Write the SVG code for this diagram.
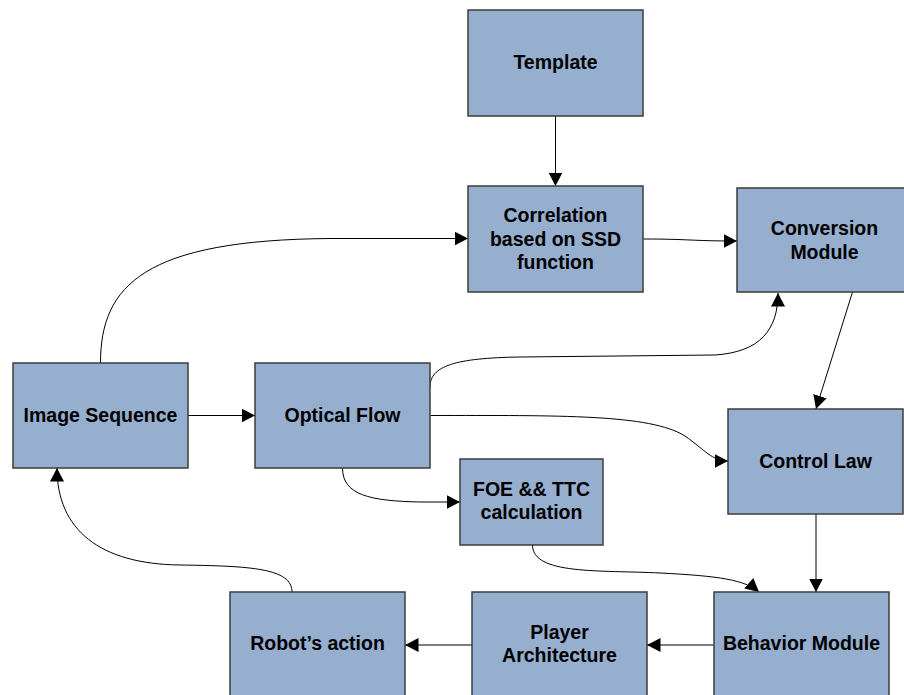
<svg xmlns="http://www.w3.org/2000/svg" width="904" height="695" viewBox="0 0 904 695">
  <style>
    .box { fill: #96AFCF; stroke: #3c3c3c; stroke-width: 1.5; }
    .lbl { font-family: "Liberation Sans", Arial, sans-serif; font-weight: bold; font-size: 19.5px; fill: #000; text-anchor: middle; }
    .edge { fill: none; stroke: #000; stroke-width: 1; marker-end: url(#arrow); }
  </style>
  <defs>
    <marker id="arrow" markerUnits="userSpaceOnUse" markerWidth="15" markerHeight="15" refX="13.5" refY="7" orient="auto">
      <path d="M0,0 L13.5,7 L0,14 z" fill="#000"/>
    </marker>
  </defs>
  <rect width="904" height="695" fill="#fff"/>

  <g id="connectors">
    <path class="edge" d="M555.5,116 L555.5,186"/>
    <path class="edge" d="M100.5,363 C100.5,285 145,240 330,238.5 L468,238.5"/>
    <path class="edge" d="M643,239 C690,239 690,241 737,241"/>
    <path class="edge" d="M430,387 C430,366 455,358 520,357 L715,355 C760,352 778,330 778,293"/>
    <path class="edge" d="M430,415.5 C560,415.5 650,414 685,436 C705,450 712,461 728,461"/>
    <path class="edge" d="M188,415.5 L255,415.5"/>
    <path class="edge" d="M342.5,468 C342.5,495 370,501 420,502 L460,502"/>
    <path class="edge" d="M532.5,545 C532.5,575 600,570 660,573 C720,576 745,580 759,592"/>
    <path class="edge" d="M852.5,292 L816,409"/>
    <path class="edge" d="M816,514 L816,592"/>
    <path class="edge" d="M714,645 L647,645"/>
    <path class="edge" d="M472,645 L405,645"/>
    <path class="edge" d="M292,592 C292,568 250,566 180,565 C100,564 57,530 57,468"/>
  </g>

  <g id="template">
    <rect class="box" x="468" y="10" width="175" height="106"/>
    <text class="lbl" x="555.5" y="69">Template</text>
  </g>
  <g id="correlation">
    <rect class="box" x="468" y="186" width="175" height="106"/>
    <text class="lbl" x="555.5" y="221.5">Correlation</text>
    <text class="lbl" x="555.5" y="245.5">based on SSD</text>
    <text class="lbl" x="555.5" y="269">function</text>
  </g>
  <g id="conversion">
    <rect class="box" x="737" y="188" width="175" height="104"/>
    <text class="lbl" x="824.5" y="235">Conversion</text>
    <text class="lbl" x="824.5" y="259">Module</text>
  </g>
  <g id="image-sequence">
    <rect class="box" x="13" y="363" width="175" height="105"/>
    <text class="lbl" x="100.5" y="422">Image Sequence</text>
  </g>
  <g id="optical-flow">
    <rect class="box" x="255" y="363" width="175" height="105"/>
    <text class="lbl" x="342.5" y="422">Optical Flow</text>
  </g>
  <g id="control-law">
    <rect class="box" x="728" y="409" width="175" height="105"/>
    <text class="lbl" x="815.5" y="468">Control Law</text>
  </g>
  <g id="foe-ttc">
    <rect class="box" x="460" y="459" width="143" height="86"/>
    <text class="lbl" x="531.5" y="495.5">FOE &amp;&amp; TTC</text>
    <text class="lbl" x="531.5" y="518.5">calculation</text>
  </g>
  <g id="behavior">
    <rect class="box" x="714" y="592" width="175" height="106"/>
    <text class="lbl" x="801.5" y="650">Behavior Module</text>
  </g>
  <g id="player">
    <rect class="box" x="472" y="592" width="175" height="106"/>
    <text class="lbl" x="559.5" y="638.5">Player</text>
    <text class="lbl" x="559.5" y="662">Architecture</text>
  </g>
  <g id="robot-action">
    <rect class="box" x="230" y="592" width="175" height="106"/>
    <text class="lbl" x="317.5" y="650">Robot’s action</text>
  </g>
</svg>
